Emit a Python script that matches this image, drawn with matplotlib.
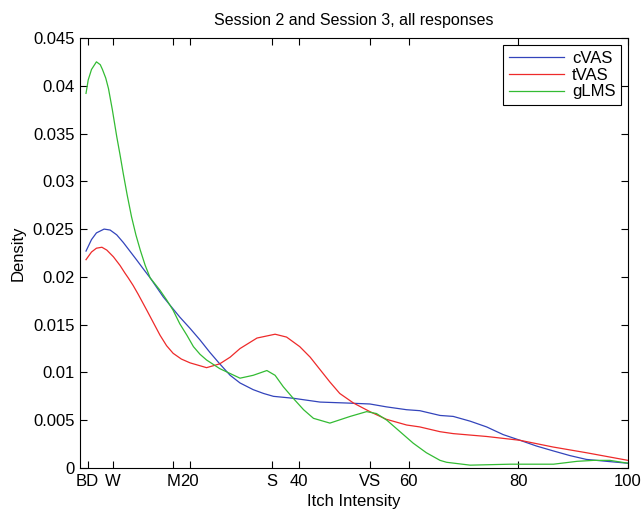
import numpy as np
import matplotlib.pyplot as plt

plt.rcParams['font.family'] = ['Liberation Sans', 'DejaVu Sans']

# values
cvas_x = [1.1, 2.1, 3.0, 4.4, 5.5, 6.7, 7.9, 9.1, 10.3, 11.6, 12.8, 15.2, 18.2, 20.1,
          21.9, 23.7, 25.5, 27.4, 29.2, 31.6, 33.5, 35.3, 38.9, 43.8, 48.7, 52.9, 55.9,
          59.6, 62, 65.7, 68.1, 71.2, 74.2, 77.2, 80.3, 83.3, 86.3, 89.4, 92.4, 96.1, 100]
cvas_y = [0.0227, 0.0239, 0.0246, 0.0250, 0.0249, 0.0244, 0.0236, 0.0227, 0.0218, 0.0208,
          0.0199, 0.0179, 0.0158, 0.0146, 0.0134, 0.0121, 0.0109, 0.0097, 0.0089, 0.0082,
          0.0078, 0.0075, 0.0073, 0.0069, 0.0068, 0.0067, 0.0064, 0.0061, 0.0060, 0.0055,
          0.0054, 0.0049, 0.0043, 0.0035, 0.0029, 0.0023, 0.0018, 0.0013, 0.0009, 0.0007,
          0.0005]

tvas_x = [1.1, 2.1, 3.0, 4.0, 4.9, 6.1, 7.3, 8.2, 8.8, 9.7, 10.6, 12.2, 13.4, 14.6, 15.8,
          17, 18.5, 20.1, 23.1, 25.5, 27.4, 29.2, 32.3, 35.6, 37.7, 40.1, 42, 43.8, 45.6,
          47.4, 49.9, 52.9, 55.9, 59.6, 62, 65.7, 68.1, 74.2, 80.3, 86.3, 92.4, 100]
tvas_y = [0.0218, 0.0226, 0.0230, 0.0231, 0.0228, 0.0221, 0.0212, 0.0204, 0.0199, 0.0191,
          0.0182, 0.0165, 0.0152, 0.0139, 0.0128, 0.0120, 0.0114, 0.0110, 0.0105, 0.0109,
          0.0116, 0.0125, 0.0136, 0.0140, 0.0137, 0.0127, 0.0116, 0.0103, 0.0090, 0.0078,
          0.0068, 0.0059, 0.0051, 0.0045, 0.0043, 0.0038, 0.0036, 0.0033, 0.0029, 0.0022,
          0.0016, 0.0008]

glms_x = [1.1, 1.5, 2.1, 3.0, 3.7, 4.1, 4.7, 5.2, 5.9, 6.7, 7.3, 7.9, 8.6, 9.4, 10.2,
          11.0, 11.9, 12.8, 14.6, 15.8, 17, 18.2, 19.5, 20.7, 21.9, 23.1, 25.5, 29.2,
          31.6, 34.1, 35.6, 37.1, 38.9, 40.8, 42.6, 45.6, 49.3, 52.3, 54.1, 56, 58.4,
          60.8, 63.2, 65.7, 66.9, 71.2, 78.5, 86.4, 90.7, 93.7, 96.7, 100]
glms_y = [0.0392, 0.0406, 0.0417, 0.0425, 0.0422, 0.0417, 0.0408, 0.0397, 0.0375, 0.0347,
          0.0328, 0.0308, 0.0286, 0.0263, 0.0244, 0.0228, 0.0212, 0.0199, 0.0186, 0.0176,
          0.0165, 0.0151, 0.0139, 0.0127, 0.0119, 0.0113, 0.0104, 0.0094, 0.0097, 0.0102,
          0.0097, 0.0085, 0.0073, 0.0061, 0.0052, 0.0047, 0.0054, 0.0059, 0.0057, 0.0050,
          0.0038, 0.0026, 0.0016, 0.0008, 0.0006, 0.0003, 0.0004, 0.0004, 0.0007, 0.0008,
          0.0008, 0.0005]

xtick_pos = [1.4, 6, 17, 20, 35, 40, 53, 60, 80, 100]
xtick_lab = ['BD', 'W', 'M', '20', 'S', '40', 'VS', '60', '80', '100']
ytick_pos = [0, 0.005, 0.01, 0.015, 0.02, 0.025, 0.03, 0.035, 0.04, 0.045]
ytick_lab = ['0', '0.005', '0.01', '0.015', '0.02', '0.025', '0.03', '0.035', '0.04', '0.045']

fig = plt.figure(figsize=(6.44, 5.12), dpi=100)
ax = fig.add_axes([0.1242, 0.0859, 0.851, 0.840])

ax.plot(cvas_x, cvas_y, color='#3344bb', lw=0.9, label='cVAS')
ax.plot(tvas_x, tvas_y, color='#ee2a2a', lw=0.9, label='tVAS')
ax.plot(glms_x, glms_y, color='#33bb33', lw=0.9, label='gLMS')

ax.set_xlim(0, 100)
ax.set_ylim(0, 0.045)
ax.set_xticks(xtick_pos)
ax.set_xticklabels(xtick_lab)
ax.set_yticks(ytick_pos)
ax.set_yticklabels(ytick_lab)
ax.tick_params(direction='in', top=True, right=True, length=5, width=0.8,
               labelsize=12, pad=4)
for s in ax.spines.values():
    s.set_linewidth(0.8)

ax.set_title('Session 2 and Session 3, all responses', fontsize=11.5, pad=9)
ax.set_xlabel('Itch Intensity', fontsize=12, labelpad=4)
ax.set_ylabel('Density', fontsize=12, labelpad=5)

leg = ax.legend(loc='upper right', bbox_to_anchor=(0.988, 0.983), fancybox=False,
                edgecolor='black', framealpha=1, fontsize=12, handlelength=3.3,
                borderaxespad=0, labelspacing=0.1, handletextpad=0.5,
                borderpad=0.35)
leg.get_frame().set_linewidth(0.8)

fig.savefig('out.png', dpi=100)
